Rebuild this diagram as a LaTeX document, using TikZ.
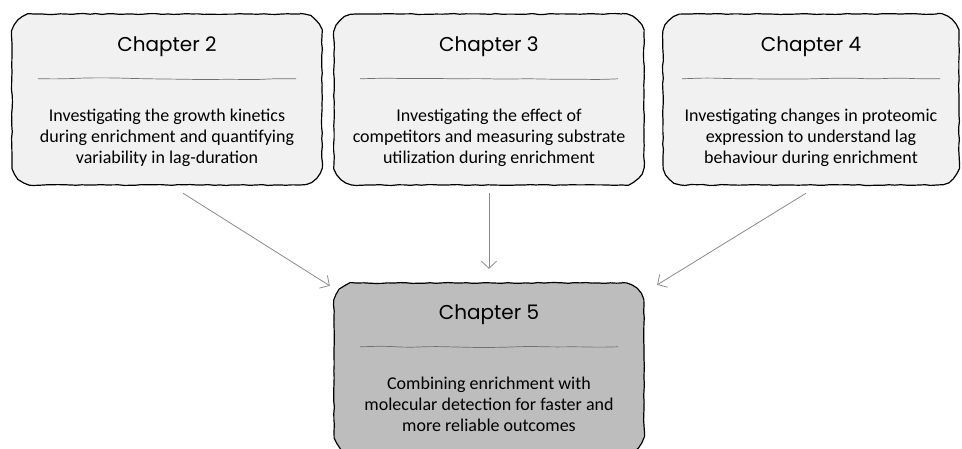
\documentclass[tikz,border=0pt]{standalone}
\usepackage{fontspec}
\setmainfont{Carlito}
\newfontfamily\headfont{Poppins}
\usetikzlibrary{arrows.meta,decorations.pathmorphing}
\definecolor{boxlight}{HTML}{F1F1F1}
\definecolor{boxdark}{HTML}{BDBDBD}
\definecolor{rulegray}{HTML}{707070}
\definecolor{arrowgray}{HTML}{8A8A8A}
\pgfmathsetseed{7}

\begin{document}
\begin{tikzpicture}[x=1pt,y=-1pt,node distance=322pt,
	sketch/.style={decorate,decoration={random steps,segment length=6pt,amplitude=0.45pt}},
	chapbox/.style={shape=rectangle,rounded corners=22pt,minimum width=310pt,minimum height=171pt,
		fill=boxlight,postaction={draw,line width=1.2pt,sharp corners,sketch}},
	chaptitle/.style={font=\headfont\fontsize{20}{24}\selectfont},
	chaptext/.style={align=center,font=\fontsize{18}{21}\selectfont},
	seprule/.style={draw=rulegray,line width=0.7pt,decorate,
		decoration={random steps,segment length=24pt,amplitude=1pt},rounded corners=9pt},
	link/.style={draw=arrowgray,line width=0.8pt,-{Straight Barb[length=7pt,width=15pt]}}]
	\useasboundingbox (0,0) rectangle (962,449);

	\node (chtwo) [chapbox] at (167,99.5) {};
	\node (chthree) [chapbox] [right of = chtwo] {};
	\node (chfour) [chapbox,minimum width=296pt] [right of = chthree] {};
	\node (chfive) [chapbox,fill=boxdark] [below of = chthree,node distance=269pt] {};

	\node (tttwo) [chaptitle] at ([yshift=-33pt]chtwo.north) {Chapter 2};
	\node (ttthree) [chaptitle] at ([yshift=-33pt]chthree.north) {Chapter 3};
	\node (ttfour) [chaptitle] at ([yshift=-33pt]chfour.north) {Chapter 4};
	\node (ttfive) [chaptitle] at ([yshift=-32pt]chfive.north) {Chapter 5};

	\draw[seprule] ([xshift=-129pt,yshift=-65pt]chtwo.north) -- ([xshift=129pt,yshift=-65pt]chtwo.north);
	\draw[seprule] ([xshift=-129pt,yshift=-65pt]chthree.north) -- ([xshift=129pt,yshift=-65pt]chthree.north);
	\draw[seprule] ([xshift=-129pt,yshift=-65pt]chfour.north) -- ([xshift=129pt,yshift=-65pt]chfour.north);
	\draw[seprule] ([xshift=-129pt,yshift=-64pt]chfive.north) -- ([xshift=129pt,yshift=-64pt]chfive.north);

	\node (txtwo) [chaptext] at ([yshift=-124pt]chtwo.north) {Investigating the growth kinetics\\during enrichment and quantifying\\variability in lag-duration};
	\node (txthree) [chaptext] at ([yshift=-124pt]chthree.north) {Investigating the effect of\\competitors and measuring substrate\\utilization during enrichment};
	\node (txfour) [chaptext] at ([yshift=-124pt]chfour.north) {Investigating changes in proteomic\\expression to understand lag\\behaviour during enrichment};
	\node (txfive) [chaptext] at ([yshift=-122pt]chfive.north) {Combining enrichment with\\molecular detection for faster and\\more reliable outcomes};

	\path ([xshift=16pt,yshift=-8pt]chtwo.south) edge[link] ([xshift=-4pt,yshift=-3pt]chfive.north west);
	\path ([yshift=-8pt]chthree.south) edge[link] ([yshift=14pt]chfive.north);
	\path ([xshift=-5pt,yshift=-8pt]chfour.south) edge[link] ([xshift=13pt,yshift=-2pt]chfive.north east);
\end{tikzpicture}
\end{document}
